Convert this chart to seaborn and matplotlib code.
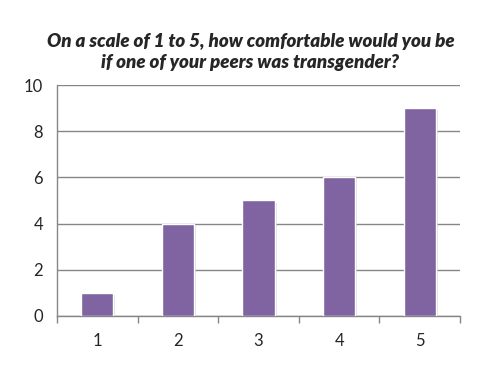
import pandas as pd
import numpy as np
import seaborn as sns
import matplotlib.pyplot as plt
import matplotlib.patheffects as pe

# data
ratings = ['1', '2', '3', '4', '5']
counts = [1, 4, 5, 6, 9]

df = pd.DataFrame({'rating': ratings, 'count': counts})

sns.set_style('white')
plt.rcParams['font.family'] = ['Lato', 'DejaVu Sans']

fig = plt.figure(figsize=(4.91, 3.73), dpi=100)
ax = fig.add_axes([0.116, 0.153, 0.821, 0.619])

sns.barplot(data=df, x='rating', y='count', color='#8064A2', width=0.4,
            saturation=1, ax=ax, zorder=3)
for bar in ax.patches:
    bar.set_path_effects([pe.SimplePatchShadow(offset=(1.5, -1.5), shadow_rgbFace='#c8c8c8', alpha=0.6), pe.Normal()])

ax.set_ylim(0, 10)
ax.set_xlim(-0.5, 4.5)
ax.set_yticks(np.arange(0, 11, 2))
ax.yaxis.grid(True, color='#868686', linewidth=1, zorder=0)
ax.set_axisbelow(True)

# category boundary ticks on x axis
ax.set_xticks(np.arange(-0.5, 5, 1), minor=True)
ax.tick_params(axis='x', which='major', length=0, pad=12, labelsize=12)
ax.tick_params(axis='x', which='minor', length=5, color='#868686', width=1, direction='out')
ax.tick_params(axis='y', length=6, color='#868686', width=1, direction='out', labelsize=12, pad=4)
ax.xaxis.set_tick_params(which='minor', bottom=True)

for s in ['top', 'right']:
    ax.spines[s].set_visible(False)
for s in ['left', 'bottom']:
    ax.spines[s].set_color('#868686')
    ax.spines[s].set_linewidth(1)

ax.set_xlabel('')
ax.set_ylabel('')

fig.text(0.51, 0.86, 'On a scale of 1 to 5, how comfortable would you be\nif one of your peers was transgender?',
         ha='center', va='center', fontsize=13.5, fontweight='heavy', fontstyle='italic',
         linespacing=1.3)

fig.savefig('out.png', dpi=100)
